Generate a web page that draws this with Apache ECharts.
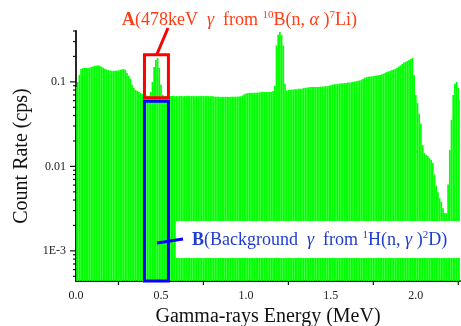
<!DOCTYPE html>
<html>
<head>
<meta charset="utf-8">
<title>Gamma-ray spectrum</title>
<script src="https://cdn.jsdelivr.net/npm/echarts@6/dist/echarts.min.js"></script>
<style>
  html, body { margin: 0; padding: 0; background: #fff; }
</style>
</head>
<body>
<div id="main" style="width:461px;height:326px;"></div>
<script>
// channel width (MeV), first channel at 0
var binWidth = 0.01;

// count rate (cps) per channel
var countRate = [
  0.087, 0.100, 0.121, 0.142, 0.146, 0.146, 0.146, 0.146, 0.148, 0.150,
  0.152, 0.155, 0.156, 0.156, 0.155, 0.151, 0.147, 0.143, 0.140, 0.138,
  0.136, 0.135, 0.135, 0.135, 0.136, 0.137, 0.139, 0.140, 0.142, 0.139,
  0.128, 0.118, 0.109, 0.0922, 0.0849, 0.0804, 0.0782, 0.0761, 0.0741, 0.0721,
  0.0702, 0.0702, 0.0683, 0.0683, 0.0761, 0.100, 0.150, 0.182, 0.192, 0.146,
  0.0922, 0.0702, 0.0683, 0.0680, 0.0676, 0.0682, 0.0679, 0.0684, 0.0678, 0.0681,
  0.0677, 0.0683, 0.0680, 0.0675, 0.0682, 0.0679, 0.0684, 0.0677, 0.0680, 0.0682,
  0.0678, 0.0681, 0.0676, 0.0683, 0.0679, 0.0680, 0.0677, 0.0682, 0.0678, 0.0675,
  0.0680, 0.0672, 0.0668, 0.0665, 0.0667, 0.0664, 0.0666, 0.0663, 0.0667, 0.0665,
  0.0664, 0.0666, 0.0668, 0.0665, 0.0667, 0.0669, 0.0671, 0.0675, 0.0690, 0.0712,
  0.0728, 0.0735, 0.0738, 0.0741, 0.0740, 0.0743, 0.0742, 0.0745, 0.0750, 0.0755,
  0.0757, 0.0758, 0.0760, 0.0759, 0.0761, 0.0762, 0.0780, 0.0897, 0.270, 0.360,
  0.390, 0.360, 0.270, 0.095, 0.079, 0.080, 0.080, 0.081, 0.081, 0.082,
  0.082, 0.083, 0.083, 0.083, 0.085, 0.085, 0.086, 0.086, 0.087, 0.087,
  0.087, 0.087, 0.087, 0.087, 0.088, 0.088, 0.088, 0.089, 0.089, 0.090,
  0.091, 0.093, 0.094, 0.094, 0.095, 0.095, 0.096, 0.096, 0.097, 0.097,
  0.098, 0.098, 0.099, 0.100, 0.101, 0.102, 0.103, 0.104, 0.106, 0.108,
  0.112, 0.114, 0.115, 0.116, 0.116, 0.117, 0.118, 0.119, 0.120, 0.121,
  0.123, 0.125, 0.128, 0.131, 0.133, 0.135, 0.138, 0.140, 0.143, 0.147,
  0.152, 0.157, 0.163, 0.169, 0.173, 0.177, 0.182, 0.187, 0.192, 0.121,
  0.070, 0.056, 0.042, 0.032, 0.018, 0.0144, 0.0137, 0.0133, 0.0126, 0.0119,
  0.0110, 0.0080, 0.0059, 0.0049, 0.0042, 0.0038, 0.0032, 0.0028, 0.0028, 0.0061,
  0.0157, 0.0355, 0.070, 0.095, 0.100, 0.085, 0.061
];

// axis ranges and ticks
var xMin = 0, xMax = 2.26;
var yMin = 0.00044, yMax = 0.4;
var xLabelValues = [0, 0.5, 1.0, 1.5, 2.0];
var xTickValues = [0.25, 0.75, 1.25, 1.75, 2.25];
var yLabelValues = [0.001, 0.01, 0.1];
var yLabelTexts = ['1E-3', '0.01', '0.1'];
var yMinorTicks = [0.0005, 0.0006, 0.0007, 0.0008, 0.0009,
  0.002, 0.003, 0.004, 0.005, 0.006, 0.007, 0.008, 0.009,
  0.02, 0.03, 0.04, 0.05, 0.06, 0.07, 0.08, 0.09,
  0.2, 0.3, 0.4];

// region boxes [E0, y0, E1, y1]
var boxA = [0.403, 0.209, 0.544, 0.0648];
var boxB = [0.403, yMin, 0.544, 0.0588];

var green = '#00ff00';
var serif = "'Liberation Serif', 'Times New Roman', serif";
var redText = '#ff3c14';
var blueText = '#1e3ccd';

var spectrum = countRate.map(function (v, i) { return [i * binWidth, v]; });

function renderBar(params, api) {
  var e = api.value(0), v = api.value(1);
  var l = api.coord([e - binWidth / 2, v]);
  var r = api.coord([e + binWidth / 2, v]);
  var base = api.coord([e, yMin]);
  return {
    type: 'rect',
    shape: { x: l[0], y: l[1], width: r[0] - l[0], height: base[1] - l[1] },
    style: { fill: green }
  };
}

function renderYTick(len) {
  return function (params, api) {
    var p = api.coord([xMin, api.value(1)]);
    return {
      type: 'line',
      shape: { x1: p[0] - len, y1: p[1], x2: p[0], y2: p[1] },
      style: { stroke: '#111', lineWidth: 1.2 }
    };
  };
}

function renderXTick(params, api) {
  var p = api.coord([api.value(0), yMin]);
  return {
    type: 'line',
    shape: { x1: p[0], y1: p[1], x2: p[0], y2: p[1] + 4 },
    style: { stroke: '#111', lineWidth: 1.2 }
  };
}

function renderBox(params, api) {
  var p0 = api.coord([api.value(0), api.value(1)]);
  var p1 = api.coord([api.value(2), api.value(3)]);
  return {
    type: 'rect',
    shape: { x: p0[0], y: p0[1], width: p1[0] - p0[0], height: p1[1] - p0[1] },
    style: { fill: 'none', stroke: api.value(4) === 0 ? '#ff0000' : '#0000ff', lineWidth: 3 }
  };
}

var myChart = echarts.init(document.getElementById('main'), null, { renderer: 'canvas' });

myChart.setOption({
  animation: false,
  backgroundColor: '#fff',
  grid: { left: 76, right: 1, top: 31, bottom: 45, containLabel: false, outerBoundsMode: 'none' },
  xAxis: {
    type: 'value',
    min: xMin,
    max: xMax,
    interval: 0.25,
    name: 'Gamma-rays Energy (MeV)',
    nameLocation: 'middle',
    nameGap: 26,
    nameTextStyle: { fontFamily: serif, fontSize: 20, color: '#111' },
    axisLine: { lineStyle: { color: '#111', width: 1.8 } },
    axisTick: { show: false },
    splitLine: { show: false },
    axisLabel: {
      fontFamily: serif, fontSize: 12, color: '#222', margin: 9,
      showMaxLabel: false,
      formatter: function (v) {
        for (var i = 0; i < xLabelValues.length; i++) {
          if (Math.abs(v - xLabelValues[i]) < 1e-6) return xLabelValues[i].toFixed(1);
        }
        return '';
      }
    }
  },
  yAxis: {
    type: 'log',
    min: yMin,
    max: yMax,
    name: 'Count Rate (cps)',
    nameLocation: 'middle',
    nameGap: 41,
    nameTextStyle: { fontFamily: serif, fontSize: 20, color: '#111' },
    axisLine: { show: true, lineStyle: { color: '#111', width: 1.8 } },
    axisTick: { show: false },
    splitLine: { show: false },
    axisLabel: {
      fontFamily: serif, fontSize: 12, color: '#222', margin: 10,
      showMinLabel: false, showMaxLabel: false,
      formatter: function (v) {
        for (var i = 0; i < yLabelValues.length; i++) {
          if (Math.abs(Math.log10(v) - Math.log10(yLabelValues[i])) < 1e-6) return yLabelTexts[i];
        }
        return '';
      }
    }
  },
  series: [
    {
      type: 'custom',
      name: 'spectrum',
      renderItem: renderBar,
      data: spectrum,
      encode: { x: 0, y: 1 },
      clip: true,
      z: 2
    },
    {
      type: 'custom',
      renderItem: renderBox,
      data: [boxA.concat([0]), boxB.concat([1])],
      encode: { x: [0, 2], y: [1, 3] },
      clip: false,
      z: 5
    },
    {
      type: 'custom',
      renderItem: renderYTick(6),
      data: yLabelValues.map(function (v) { return [xMin, v]; }),
      encode: { x: 0, y: 1 },
      clip: false,
      z: 6
    },
    {
      type: 'custom',
      renderItem: renderYTick(3),
      data: yMinorTicks.map(function (v) { return [xMin, v]; }),
      encode: { x: 0, y: 1 },
      clip: false,
      z: 6
    },
    {
      type: 'custom',
      renderItem: renderXTick,
      data: xTickValues.map(function (e) { return [e, yMin]; }),
      encode: { x: 0, y: 1 },
      clip: false,
      z: 6
    }
  ],
  graphic: {
    elements: [
      {
        type: 'line', z: 100,
        shape: { x1: 157, y1: 54, x2: 168, y2: 28 },
        style: { stroke: '#ff0000', lineWidth: 3 }
      },
      {
        type: 'text', z: 100, x: 122, y: 20,
        style: {
          text: '{b|A}{t|(478keV  }{g|γ}{t|  from }{s|10}{t|B(n,}{g| α}{t| )}{s|7}{t|Li)}',
          verticalAlign: 'middle',
          rich: {
            b: { fontFamily: serif, fontSize: 18, fontWeight: 'bold', fill: redText },
            t: { fontFamily: serif, fontSize: 18, fill: redText },
            g: { fontFamily: serif, fontSize: 18, fontStyle: 'italic', fill: redText },
            s: { fontFamily: serif, fontSize: 11, fill: redText, padding: [0, 0, 10, 0] }
          }
        }
      },
      {
        type: 'rect', z: 100,
        shape: { x: 176, y: 221, width: 284, height: 37 },
        style: { fill: '#fff' }
      },
      {
        type: 'line', z: 101,
        shape: { x1: 157, y1: 243, x2: 183, y2: 239 },
        style: { stroke: '#0000ff', lineWidth: 3 }
      },
      {
        type: 'text', z: 101, x: 192, y: 240,
        style: {
          text: '{b|B}{t|(Background  }{g|γ}{t|  from }{s|1}{t|H(n, }{g|γ}{t| )}{s|2}{t|D)}',
          verticalAlign: 'middle',
          rich: {
            b: { fontFamily: serif, fontSize: 18, fontWeight: 'bold', fill: blueText },
            t: { fontFamily: serif, fontSize: 18, fill: blueText },
            g: { fontFamily: serif, fontSize: 18, fontStyle: 'italic', fill: blueText },
            s: { fontFamily: serif, fontSize: 11, fill: blueText, padding: [0, 0, 10, 0] }
          }
        }
      }
    ]
  }
});
</script>
</body>
</html>
